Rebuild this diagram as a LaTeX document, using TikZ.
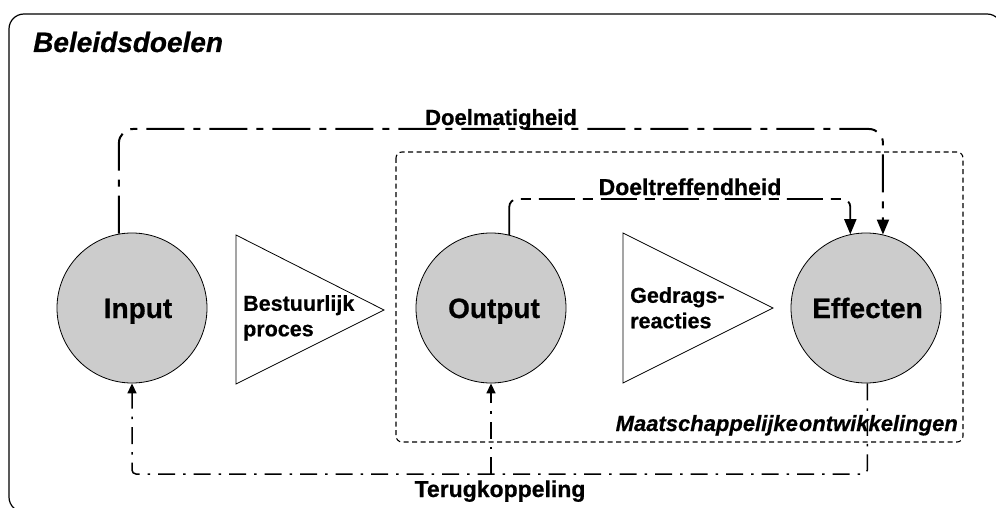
\documentclass[tikz,border=0pt]{standalone}
\usepackage{fontspec}
\setmainfont{Liberation Sans}[BoldFeatures={FakeBold=0.6},BoldItalicFeatures={FakeBold=0.6}]
\usetikzlibrary{arrows.meta,calc}

\begin{document}
\begin{tikzpicture}[x=1pt,y=-1pt,
  blob/.style={circle,draw=black,line width=0.8pt,fill=black!20,
    minimum size=150pt,inner sep=0pt,text height=20pt,text depth=0pt,
    font=\bfseries\fontsize{28}{30}\selectfont},
  wedge/.style={draw=black,line width=0.8pt,fill=white},
  procname/.style={anchor=north west,align=left,inner sep=0pt,
    font=\bfseries\fontsize{21.5}{25.5}\selectfont},
  flowlabel/.style={anchor=base,inner sep=0pt,
    font=\bfseries\fontsize{22}{24}\selectfont},
  goaltip/.style={-{Triangle[length=15pt,width=12pt]}},
  fbtip/.style={-{Triangle[length=10pt,width=9pt]}},
  doelmline/.style={line width=2pt,dash pattern=on 38pt off 9pt on 7pt off 9pt},
  doeltrline/.style={line width=1.8pt,dash pattern=on 36pt off 8pt on 10pt off 8pt},
  fbline/.style={line width=1.5pt,dash pattern=on 17pt off 8pt on 2.5pt off 8pt},
  zone/.style={draw=black,line width=1.1pt,dash pattern=on 5pt off 3.5pt,rounded corners=6pt}
]
\useasboundingbox (0,0) rectangle (996,508);

% outer frame
\draw[line width=1.2pt,rounded corners=15pt] (9,14) rectangle (1002,512);
\node[anchor=base west,inner sep=0pt,font=\bfseries\itshape\fontsize{28}{30}\selectfont]
  (title) at (33,52) {Beleidsdoelen};

% zone of societal developments
\draw[zone] (396,152) rectangle (963,442);
\node[anchor=base east,inner sep=0pt,font=\bfseries\itshape\fontsize{22}{26}\selectfont]
  (maat) at (958,431) {Maatschappelijke\hspace{1pt}ontwikkelingen};

% process wedges
\draw[wedge] (236,235) -- (384,310) -- (236,384) -- cycle;
\node[procname] (bestuur) at (243,295) {Bestuurlijk\\proces};
\draw[wedge] (623,233) -- (773,308) -- (623,383) -- cycle;
\node[procname] (gedrag) at (630,287) {Gedrags-\\reacties};

% stages
\node[blob] (input) at (132,308) {\hspace{12pt}Input};
\node[blob] (output) at (491,308) {\hspace{6pt}Output};
\node[blob] (effecten) at (866,308) {\hspace{3pt}Effecten};

% efficiency: input -> effects
\coordinate (dmtop) at (500,129);
\draw[doelmline,goaltip,rounded corners=14pt] (input.100.8) |- (dmtop) -| (effecten.77.7);
\node[flowlabel] (doelm) at (501,125) {Doelmatigheid};

% effectiveness: output -> effects
\coordinate (dttop) at (690,199);
\draw[doeltrline,goaltip,rounded corners=8pt] (output.76.1) |- (dttop) -| (effecten.102.3);
\node[flowlabel,font=\bfseries\fontsize{23}{26}\selectfont] (doeltr) at (690,195) {Doeltreffendheid};

% feedback
\coordinate (fbcorner) at (132,474);
\draw[fbline,fbtip,rounded corners=4pt] (effecten.271.5) |- (fbcorner) -- (input.south);
\draw[fbline,fbtip] (output.south |- fbcorner) -- (output.south);
\node[flowlabel,font=\bfseries\fontsize{23}{26}\selectfont] (terug) at (500,497) {Terugkoppeling};
\end{tikzpicture}
\end{document}
